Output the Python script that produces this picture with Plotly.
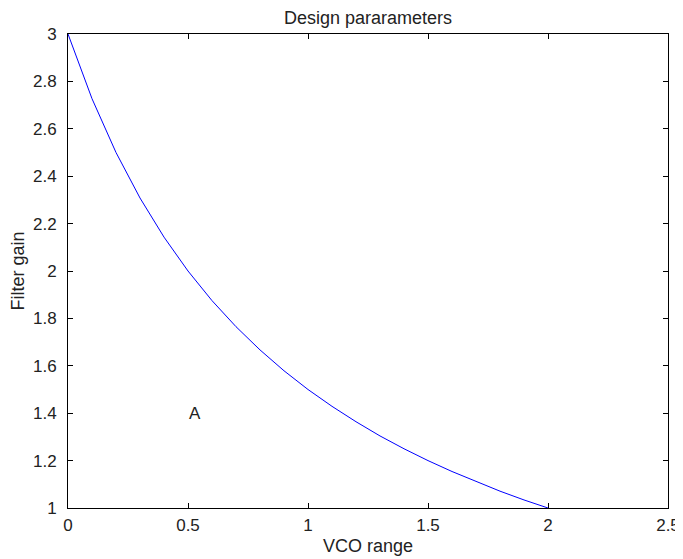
import plotly.graph_objects as go

vco_range = [0.0, 0.1, 0.2, 0.3, 0.4, 0.5, 0.6, 0.7, 0.8, 0.9, 1.0,
             1.1, 1.2, 1.3, 1.4, 1.5, 1.6, 1.7, 1.8, 1.9, 2.0]
filter_gain = [3.0, 2.727, 2.5, 2.308, 2.143, 2.0, 1.875, 1.765, 1.667, 1.579, 1.5,
               1.429, 1.364, 1.304, 1.25, 1.2, 1.154, 1.111, 1.071, 1.034, 1.0]
x_ticks = [0, 0.5, 1, 1.5, 2, 2.5]
x_tick_labels = ["0", "0.5", "1", "1.5", "2", "2.5"]
y_ticks = [1, 1.2, 1.4, 1.6, 1.8, 2, 2.2, 2.4, 2.6, 2.8, 3]
y_tick_labels = ["1", "1.2", "1.4", "1.6", "1.8", "2", "2.2", "2.4", "2.6", "2.8", "3"]

FS = 17
FT = 18
TXT = "#222222"
fig = go.Figure()
fig.add_trace(go.Scatter(x=vco_range, y=filter_gain, mode="lines",
                         line=dict(color="#0000ff", width=1), showlegend=False))
fig.add_annotation(x=0.53, y=1.4, text="A", showarrow=False,
                   font=dict(size=FS, color=TXT))

axis_common = dict(showgrid=False, zeroline=False, showline=True, linecolor="black",
                   linewidth=1, mirror="ticks", ticks="inside", ticklen=5,
                   tickcolor="black", tickfont=dict(size=FS, color=TXT),
                   automargin=False)
fig.update_xaxes(range=[0, 2.5], tickvals=x_ticks, ticktext=x_tick_labels,
                 ticklabelstandoff=2,
                 title=dict(text="VCO range", font=dict(size=FT, color=TXT), standoff=4),
                 **axis_common)
fig.update_yaxes(range=[1, 3], tickvals=y_ticks, ticktext=y_tick_labels,
                 ticklabelstandoff=7,
                 title=dict(text="Filter gain", font=dict(size=FT, color=TXT), standoff=3),
                 **axis_common)
fig.update_layout(
    width=675, height=551,
    margin=dict(l=60, r=15, t=26, b=51),
    paper_bgcolor="white", plot_bgcolor="white",
    font=dict(family="Liberation Sans, Arial, sans-serif"),
    title=dict(text="Design pararameters", x=0.5, xref="paper", xanchor="center",
               y=1, yref="paper", yanchor="bottom", pad=dict(b=10),
               font=dict(size=FT, color=TXT)),
)
fig.write_html("out.html")
